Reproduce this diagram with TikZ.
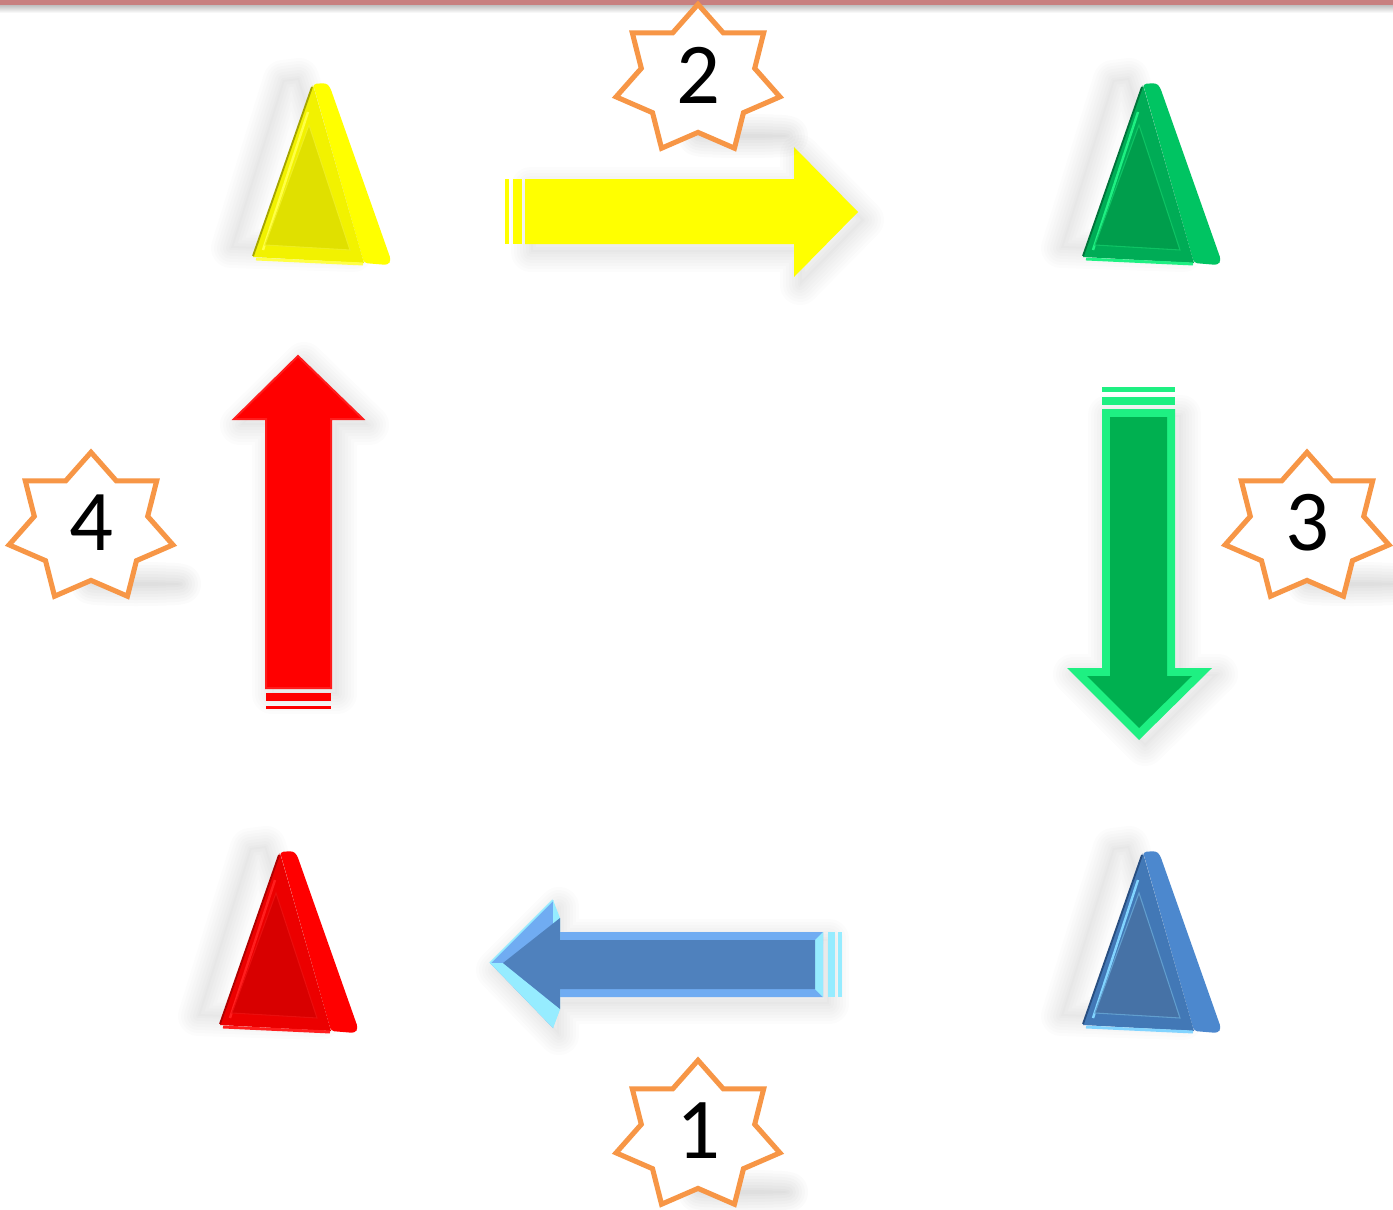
\documentclass[tikz,border=0pt]{standalone}
\usepackage{fontspec}
\setmainfont{Carlito}
\definecolor{starorange}{RGB}{247,150,70}
\definecolor{topline}{RGB}{200,128,128}
% yellow
\definecolor{ySide}{RGB}{255,255,0}\definecolor{yFrame}{RGB}{242,242,0}\definecolor{yFace}{RGB}{224,224,0}
\definecolor{yEdge}{RGB}{165,165,0}\definecolor{yHl}{RGB}{255,255,70}
% green
\definecolor{gSide}{RGB}{0,196,98}\definecolor{gFrame}{RGB}{0,172,86}\definecolor{gFace}{RGB}{0,158,76}
\definecolor{gEdge}{RGB}{0,115,58}\definecolor{gHl}{RGB}{30,240,130}
% red
\definecolor{rSide}{RGB}{255,0,0}\definecolor{rFrame}{RGB}{236,0,0}\definecolor{rFace}{RGB}{216,0,0}
\definecolor{rEdge}{RGB}{175,0,0}\definecolor{rHl}{RGB}{255,30,30}
% blue
\definecolor{bSide}{RGB}{76,136,206}\definecolor{bFrame}{RGB}{66,120,182}\definecolor{bFace}{RGB}{70,114,166}
\definecolor{bEdge}{RGB}{40,78,128}\definecolor{bHl}{RGB}{130,212,255}
% arrows
\definecolor{arrYellow}{RGB}{255,255,0}
\definecolor{arrGreenOut}{RGB}{30,240,130}\definecolor{arrGreenIn}{RGB}{0,176,80}
\definecolor{arrBlueOut}{RGB}{112,172,242}\definecolor{arrBlueIn}{RGB}{79,129,189}\definecolor{arrCyan}{RGB}{150,236,255}
\definecolor{arrRed}{RGB}{255,0,0}\definecolor{arrRedEdge}{RGB}{255,28,28}

\tikzset{
  starline/.style={draw=starorange, line width=3.8pt, fill=white, line join=miter},
  numtext/.style={font=\fontsize{65}{65}\selectfont, inner sep=0pt, text=black},
}

\newcommand\softshadow[2]{%
  \foreach \w in {40,34,28,22,16,10,4}{\draw[black,opacity=#1,line width=\w*0.75pt,line join=round] #2;}
  \fill[black,opacity=#1] #2;
}

\newcommand\heptastar[5]{% name, x, y, label, dummy
  \begin{scope}[shift={(#2,#3)}]
    \softshadow{0.016}{(45,56) ellipse [x radius=45, y radius=2]}
    \path[starline] plot[samples at={0,...,13}]
      ({1.11*(75.7-23.3*mod(\x,2))*sin(\x*180/7)},{-(75.7-23.3*mod(\x,2))*cos(\x*180/7)}) -- cycle;
  \end{scope}
  \node[numtext] (#1) at (#2,#3-5) {#4};
}

\newcommand\tri[7]{% x, y, side, frame, face, edge, highlight
  \begin{scope}[shift={(#1,#2)}]
    \softshadow{0.012}{(-30,-4) -- (-14,-6) -- (40,168) -- (-82,164) -- cycle}
    \fill[#3, rounded corners=2.5pt] (0,0) -- (13,-1) -- (17,3) -- (78,176) -- (75,181) -- (51,179) -- cycle;
    \fill[#4] (0,1) -- (51,179) -- (-60,173) -- cycle;
    \draw[#6, line width=1.4pt] (-1,3) -- (-60,172);
    \draw[#7, line width=2.2pt] (-57,175) -- (50,180);
    \draw[#7, line width=1.8pt] (-5,28) -- (-50,166);
    \fill[#5, draw=#7!45!#5, line width=0.8pt] (-4,41) -- (37,166) -- (-48,161) -- cycle;
  \end{scope}
}

\begin{document}
\begin{tikzpicture}[x=0.75pt,y=-0.75pt]
\useasboundingbox (0,0) rectangle (1393,1210);
\fill[white] (0,0) rectangle (1393,1210);

% top rule with shadow
\shade[top color=black!28, bottom color=white] (0,4) rectangle (1393,13);
\fill[topline] (0,0) rectangle (1393,4.5);

% triangles
\tri{313}{84}{ySide}{yFrame}{yFace}{yEdge}{yHl}
\tri{1143}{84}{gSide}{gFrame}{gFace}{gEdge}{gHl}
\tri{280}{852}{rSide}{rFrame}{rFace}{rEdge}{rHl}
\tri{1143}{852}{bSide}{bFrame}{bFace}{bEdge}{bHl}

% yellow arrow (right)
\softshadow{0.012}{(531,187) -- (800,187) -- (800,155) -- (864,220) -- (800,285) -- (800,252) -- (531,252) -- cycle}
\fill[arrYellow] (525,179) -- (794,179) -- (794,147) -- (858,212) -- (794,277) -- (794,244) -- (525,244) -- cycle;
\fill[arrYellow] (505,179) rectangle (509,244);
\fill[arrYellow] (513,179) rectangle (522,244);

% green arrow (down)
\softshadow{0.012}{(1108,415) -- (1181,415) -- (1181,674) -- (1218,674) -- (1145,746) -- (1073,674) -- (1108,674) -- cycle}
\fill[arrGreenOut] (1102,409) -- (1175,409) -- (1175,668) -- (1212,668) -- (1139,740) -- (1067,668) -- (1102,668) -- cycle;
\fill[arrGreenIn] (1110,417) -- (1167,417) -- (1167,676) -- (1192,676) -- (1139,728) -- (1087,676) -- (1110,676) -- cycle;
\fill[arrGreenOut] (1102,387) rectangle (1175,392);
\fill[arrGreenOut] (1102,397) rectangle (1175,405);

% blue arrow (left)
\softshadow{0.012}{(829,939) -- (559,939) -- (559,907) -- (496,970) -- (559,1035) -- (559,1004) -- (829,1004) -- cycle}
\fill[arrBlueOut] (823,932) -- (553,932) -- (553,900) -- (490,963) -- (553,1028) -- (553,997) -- (823,997) -- cycle;
\fill[arrCyan] (823,932) -- (823,997) -- (815,989) -- (815,940) -- cycle;
\fill[arrCyan] (553,900) -- (560,918) -- (560,940) -- (553,932) -- cycle;
\fill[arrCyan] (553,997) -- (560,989) -- (560,1009) -- (553,1028) -- cycle;
\fill[arrCyan] (490,963) -- (503,963) -- (560,1009) -- (553,1028) -- cycle;
\draw[arrCyan, line width=1.2pt] (490,963) -- (553,900);
\fill[arrBlueIn] (815,940) -- (560,940) -- (560,918) -- (503,963) -- (560,1009) -- (560,989) -- (815,989) -- cycle;
\fill[arrCyan] (828,932) rectangle (835,997);
\fill[arrCyan] (838,932) rectangle (842,997);

% red arrow (up)
\softshadow{0.012}{(272,694) -- (272,425) -- (240,425) -- (304,362) -- (369,425) -- (337,425) -- (337,694) -- cycle}
\fill[arrRed, draw=arrRedEdge, line width=1.5pt] (266,688) -- (266,419) -- (234,419) -- (298,356) -- (363,419) -- (331,419) -- (331,688) -- cycle;
\fill[arrRed] (266,693) rectangle (331,701);
\fill[arrRed] (266,706) rectangle (331,709);

% numbered stars
\heptastar{s1}{698}{1136}{1}{}
\heptastar{s2}{698}{80}{2}{}
\heptastar{s3}{1307}{528}{3}{}
\heptastar{s4}{91}{528}{4}{}
\end{tikzpicture}
\end{document}
